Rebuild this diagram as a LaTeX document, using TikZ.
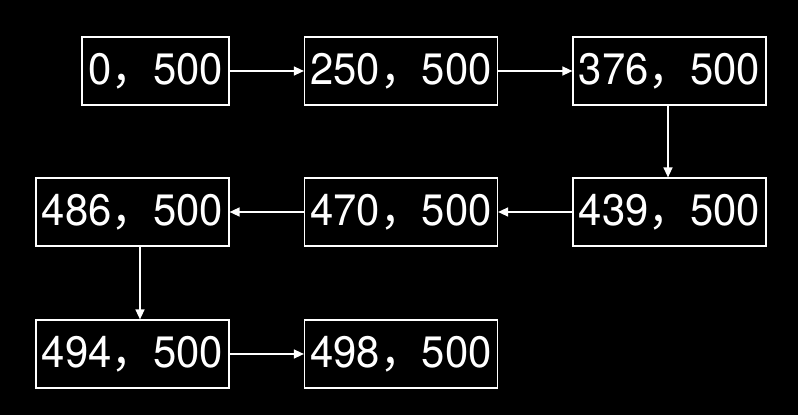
\documentclass[tikz,border=0pt]{standalone}
\usepackage{fontspec}
\setmainfont{TeX Gyre Heros}
\newfontfamily\cjk{Noto Sans CJK SC}
\usetikzlibrary{arrows.meta}
\newcommand{\val}[1]{\raisebox{-3pt}{\scalebox{0.95}[1]{\fontsize{44pt}{48pt}\selectfont #1{\cjk ，}500}}}
\tikzset{
  cell/.style={draw=white, line width=1.2pt, text=white, inner sep=0pt, minimum height=68pt, anchor=center},
  wide/.style={cell, minimum width=193pt},
  narrow/.style={cell, minimum width=147pt},
  link/.style={draw=white, line width=1.4pt, -{Triangle[length=10pt,width=9pt]}}
}
\begin{document}
\begin{tikzpicture}[x=1pt,y=1pt]
\fill[black] (0,0) rectangle (798,415);
\useasboundingbox (0,0) rectangle (798,415);
\node[narrow] (a) at (155.5,344) {\val{0}};
\node[wide] (b) at (401,344) {\val{250}};
\node[wide] (c) at (669.5,344) {\val{376}};
\node[wide] (d) at (669.5,203) {\val{439}};
\node[wide] (e) at (401,203) {\val{470}};
\node[wide] (f) at (132.5,203) {\val{486}};
\node[wide] (g) at (132.5,61) {\val{494}};
\node[wide] (h) at (401,61) {\val{498}};
\draw[link] (a) -- (b);
\draw[link] (b) -- (c);
\draw[link] ([xshift=-1.5pt]c.south) -- ([xshift=-1.5pt]d.north);
\draw[link] (d) -- (e);
\draw[link] (e) -- (f);
\draw[link] ([xshift=7.5pt]f.south) -- ([xshift=7.5pt]g.north);
\draw[link] (g) -- (h);
\end{tikzpicture}
\end{document}
